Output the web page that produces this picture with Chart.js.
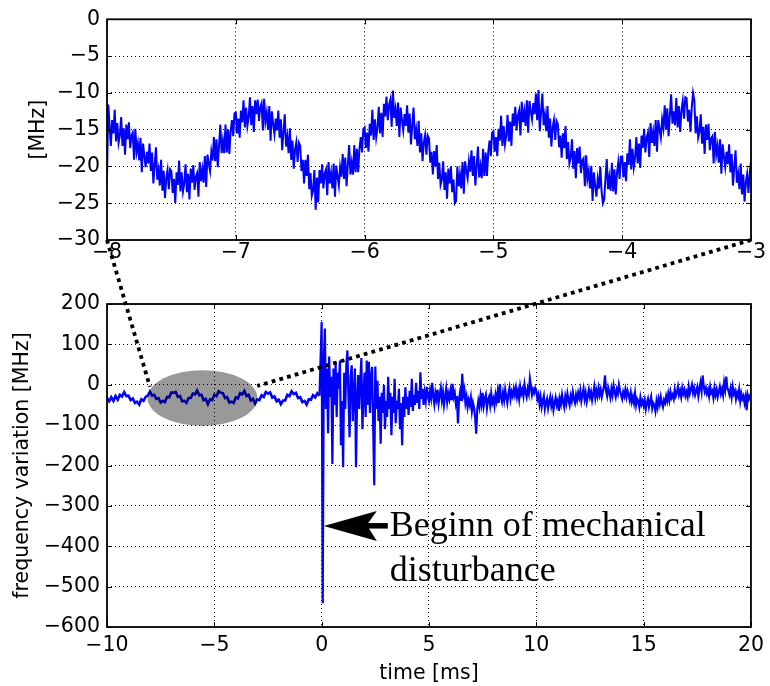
<!DOCTYPE html>
<html><head><meta charset="utf-8">
<script src="https://cdn.jsdelivr.net/npm/chart.js@4.4.1/dist/chart.umd.min.js"></script>
<style>
html,body{margin:0;padding:0;background:#fff;}
#wrap{position:relative;width:770px;height:686px;overflow:hidden;}
canvas{position:absolute;left:0;top:0;}
</style></head><body>
<div id="wrap"><canvas id="cTop" width="770" height="686"></canvas><canvas id="cBottom" width="770" height="686"></canvas></div>
<script>
// ---------- data ----------
// zoomed panel: samples every 0.01 ms from -8.00 to -3.00 ms
const topStart = -8, topStep = 0.01;
const topFreq = [
-21.5,-11.6,-14.4,-17.2,-13.7,-15.5,-12.3,-16.6,-14.1,-16.8,
-15.8,-13.3,-17.2,-14.8,-18.4,-14.3,-16.3,-14.0,-17.5,-15.8,
-15.4,-19.1,-14.9,-18.0,-16.9,-19.2,-16.1,-20.8,-16.9,-18.6,
-20.1,-18.0,-19.6,-16.9,-20.6,-18.1,-22.3,-19.8,-17.4,-21.8,
-20.5,-22.6,-19.1,-23.3,-20.6,-24.3,-21.6,-20.5,-23.1,-20.4,
-20.7,-23.6,-21.7,-25.0,-20.8,-22.5,-19.2,-23.4,-20.8,-23.4,
-22.3,-19.7,-23.5,-21.0,-24.5,-20.3,-22.2,-19.8,-23.2,-21.4,
-20.9,-24.1,-19.4,-22.0,-20.4,-22.2,-18.6,-22.8,-18.4,-19.6,
-20.6,-18.0,-19.2,-16.0,-19.3,-16.3,-20.1,-17.1,-14.3,-18.2,
-16.5,-18.2,-14.3,-18.1,-15.0,-18.3,-15.2,-13.7,-15.9,-12.8,
-12.7,-15.5,-13.5,-16.1,-12.4,-14.0,-11.0,-14.7,-12.0,-14.5,
-13.3,-10.6,-14.4,-11.8,-15.3,-11.0,-12.9,-10.9,-13.8,-11.9,
-11.4,-15.1,-10.8,-13.9,-12.7,-15.0,-11.8,-16.5,-12.5,-14.2,
-15.6,-13.5,-15.1,-12.4,-16.1,-13.6,-17.8,-15.3,-12.9,-17.3,
-16.0,-18.2,-14.8,-19.1,-16.5,-20.3,-17.7,-16.7,-19.4,-16.8,
-17.2,-20.6,-19.1,-22.3,-19.1,-21.3,-18.4,-23.1,-20.9,-24.0,
-23.3,-20.5,-25.9,-21.5,-24.9,-20.5,-22.3,-19.7,-23.0,-21.0,
-20.4,-23.9,-19.4,-22.3,-20.9,-23.0,-19.6,-24.1,-19.9,-21.4,
-22.6,-20.1,-21.4,-18.3,-21.7,-18.8,-22.7,-19.8,-17.1,-21.1,
-19.5,-21.1,-17.1,-20.8,-17.6,-20.8,-17.6,-16.0,-18.1,-14.9,
-14.7,-17.5,-15.4,-18.0,-14.2,-15.8,-12.3,-16.4,-13.6,-16.1,
-14.8,-11.9,-15.5,-12.7,-16.0,-11.5,-13.2,-10.5,-13.7,-11.6,
-10.9,-14.6,-9.7,-13.4,-12.2,-14.5,-11.3,-16.0,-12.0,-13.7,
-15.1,-12.9,-14.5,-11.7,-15.4,-12.8,-17.0,-14.4,-12.0,-16.3,
-15.0,-17.2,-13.8,-18.1,-15.5,-19.3,-16.7,-15.7,-18.4,-15.8,
-16.2,-19.5,-18.0,-21.1,-17.9,-20.0,-17.1,-21.7,-19.5,-22.5,
-21.8,-19.3,-23.2,-20.8,-24.4,-20.3,-22.3,-20.0,-23.5,-21.8,
-25.0,-24.7,-20.0,-22.7,-21.1,-23.0,-19.4,-23.7,-19.3,-20.6,
-21.6,-19.3,-20.7,-17.8,-21.3,-18.6,-22.6,-19.9,-17.3,-21.5,
-20.0,-21.6,-17.6,-21.3,-18.1,-21.3,-18.1,-16.5,-18.6,-15.4,
-15.2,-18.0,-16.0,-18.6,-14.9,-16.5,-13.1,-17.2,-14.5,-17.0,
-15.8,-13.0,-16.6,-13.9,-17.2,-12.8,-14.5,-11.9,-15.1,-13.1,
-12.4,-15.8,-11.2,-14.0,-12.5,-14.5,-11.0,-15.4,-11.1,-12.5,
-13.6,-11.4,-12.9,-10.1,-13.7,-9.6,-15.2,-12.6,-10.1,-14.4,
-13.0,-15.2,-11.8,-16.1,-13.5,-17.3,-14.7,-13.7,-16.4,-13.8,
-14.2,-17.4,-15.8,-18.8,-15.5,-17.5,-14.5,-19.0,-16.7,-19.6,
-18.8,-16.3,-20.3,-17.9,-21.6,-17.5,-19.6,-17.3,-20.9,-19.2,
-18.9,-22.7,-18.5,-21.7,-20.6,-23.0,-19.9,-24.7,-20.8,-22.6,
-24.1,-21.7,-23.0,-20.0,-23.4,-25.0,-24.5,-21.7,-19.0,-23.1,
-21.5,-23.3,-19.5,-23.4,-20.4,-23.8,-20.8,-19.4,-21.7,-18.7,
-18.7,-21.5,-19.4,-22.0,-18.2,-19.8,-16.3,-20.4,-17.6,-20.1,
-18.8,-16.0,-19.6,-16.9,-20.2,-15.8,-17.5,-14.9,-18.1,-16.1,
-15.4,-18.7,-14.1,-16.8,-15.3,-17.2,-13.7,-18.0,-13.7,-15.0,
-16.1,-13.6,-14.8,-11.7,-15.0,-12.1,-15.9,-13.0,-10.2,-14.2,
-12.5,-14.4,-10.7,-14.7,-11.8,-15.3,-12.4,-11.1,-13.5,-10.6,
-10.7,-13.9,-12.3,-15.3,-12.0,-10.0,-11.0,-15.5,-13.2,-16.1,
-15.3,-12.9,-16.9,-14.6,-18.3,-14.3,-16.4,-14.2,-17.8,-16.2,
-15.9,-19.6,-15.3,-18.4,-17.2,-19.5,-16.3,-21.0,-17.0,-18.7,
-20.1,-18.0,-19.7,-17.0,-20.8,-18.3,-22.6,-20.1,-17.8,-22.2,
-21.0,-23.1,-19.6,-23.8,-21.1,-24.8,-22.1,-21.0,-23.6,-20.9,
-19.3
];

// full trace, part 1: every 0.1 ms from -10.0 to -0.1 ms (before the disturbance)
const bottomStartA = -10, bottomStepA = 0.1;
const bottomFreqA = [
-33,-41,-31,-40,-28,-37,-25,-29,-18,-28,
-27,-38,-34,-45,-42,-49,-36,-40,-30,-27,
-17,-27,-25,-35,-33,-44,-40,-43,-30,-31,
-19,-20,-18,-30,-28,-41,-40,-45,-33,-33,
-22,-24,-14,-26,-25,-38,-35,-48,-36,-38,
-25,-28,-16,-20,-21,-33,-31,-44,-42,-45,
-31,-34,-21,-24,-15,-28,-25,-39,-35,-47,
-36,-38,-26,-30,-18,-22,-19,-32,-29,-41,
-37,-48,-39,-39,-25,-28,-16,-23,-20,-33,
-31,-43,-40,-49,-36,-37,-26,-31,-21,-27
];

// full trace, part 2: every 0.05 ms from 0.0 to 20.0 ms
const bottomStartB = 0, bottomStepB = 0.05;
const bottomFreqB = [
156,-541,60,139,-60,40,-120,70,-30,20,-196,40,-50,55,-80,30,-10,60,-150,-40,
-204,30,-60,50,85,-30,-130,20,48,-90,-20,40,-204,-40,24,-60,10,66,-110,-20,
30,-80,60,-50,57,-70,20,44,-100,-249,45,-60,10,-90,-30,-146,-20,-70,0,-110,
-40,-80,20,-60,-20,-125,-30,-70,15,-95,-40,-60,-10,-110,-45,-150,-30,-80,-6,-60,
-30,-75,-15,-55,15,-65,-25,-50,5,-45,-15,-60,31,-35,-10,-50,-20,-40,-5,-30,
-40,-15,-32,5,-28,-48,-20,-35,-12,-45,-25,-8,-38,-18,-50,-30,-10,-42,-22,-35,
-15,-38,2,-30,-20,-45,-28,-96,-35,-18,-40,27,-25,-12,-45,-30,-55,-38,-50,-32,
-65,-45,-58,-80,-121,-60,-40,-55,-28,-48,-20,-52,-35,-25,-58,-38,-30,-50,-22,-45,
-35,-52,-25,-40,-18,-45,2,-30,-42,-20,-38,-12,-30,-45,-22,-8,-35,-18,-28,-10,
-25,-8,-30,-15,-35,-5,-22,-12,-28,0,-18,-30,-10,-22,15,-5,-25,-12,-20,-8,
-15,-35,-25,-48,-30,-55,-40,-28,-60,-45,-35,-58,-42,-30,-52,-38,-62,-45,-32,-50,
-40,-65,-35,-48,-25,-42,-55,-30,-45,-22,-38,-50,-28,-40,-18,-35,-45,-25,-38,-20,
-32,-15,-40,-25,-10,-35,-20,-42,-28,-12,-30,-18,-38,-22,-5,-32,-15,-28,-8,-25,
-12,-30,-18,-5,23,-15,-28,-8,-20,-32,-10,-25,-2,-18,-30,-12,-22,0,-15,-25,
-35,-18,-28,-12,-30,-15,-25,-38,-20,-42,-30,-45,-22,-50,-35,-40,-55,-32,-48,-40,
-52,-38,-60,-45,-35,-55,-42,-30,-58,-45,-50,-65,-40,-55,-35,-48,-30,-45,-55,-38,
-45,-28,-40,-22,-38,-18,-32,-25,-35,-12,-28,-20,-5,-25,-15,-30,-8,-22,-12,-28,
-18,-30,-5,-22,-12,0,-20,-8,-25,-15,-5,-28,-10,5,-15,23,-5,-18,-8,-22,
-12,-28,-5,-20,-15,-32,-8,-25,-12,-30,-18,-5,-22,-10,-25,5,-12,20,-8,-15,
-25,-10,-30,-5,-22,-15,-35,-20,-30,-12,-40,-22,-35,-28,-45,-30,-63,-25,-35,-28,
-38
];

const topXRange = [-8, -3], topXStep = 1;
const topYRange = [-30, 0], topYStep = 5;
const bottomXRange = [-10, 20], bottomXStep = 5;
const bottomYRange = [-600, 200], bottomYStep = 100;
const topYTitle = '[MHz]';
const bottomYTitle = 'frequency variation [MHz]';
const bottomXTitle = 'time [ms]';
const annotationLines = ['Beginn of mechanical', 'disturbance'];
const annotationTip = {x: 0.1, y: -350};
const zoomEllipse = {cx: -5.55, cy: -33, rx: 2.56, ry: 69};
const connectorEnds = [{x: -8, y: -5}, {x: -3, y: -3}];

// ---------- helpers ----------
const FONT = 'DejaVu Sans';
const FS = 20.5;
const fmt = v => (v < 0 ? '\u2212' + Math.abs(v) : String(v));
const toPoints = (start, step, arr) => arr.map((v, i) => ({x: +(start + i * step).toFixed(4), y: v}));

function scales(xr, xs, yr, ys, o) {
  return {
    x: {
      type: 'linear', min: xr[0], max: xr[1],
      ticks: {stepSize: xs, color: '#000', font: {family: FONT, size: FS}, padding: o.xPad, maxRotation: 0, autoSkip: false, callback: fmt},
      grid: {color: '#000', lineWidth: 1, drawTicks: false},
      border: {display: false, dash: [1, 3]},
      title: o.xTitle ? {display: true, text: o.xTitle, color: '#000', font: {family: FONT, size: FS}, padding: {top: 0, bottom: o.xTitlePad}} : {display: false},
      afterFit: s => { s.height = o.xHeight; }
    },
    y: {
      type: 'linear', min: yr[0], max: yr[1],
      ticks: {stepSize: ys, color: '#000', font: {family: FONT, size: FS}, padding: 7, autoSkip: false, callback: fmt},
      grid: {color: '#000', lineWidth: 1, drawTicks: false},
      border: {display: false, dash: [1, 3]},
      title: {display: true, text: o.yTitle, color: '#000', font: {family: FONT, size: FS}, padding: {top: o.yTitlePad, bottom: 0}},
      afterFit: s => { s.width = 107; }
    }
  };
}

const frameTicks = {
  id: 'frameTicks',
  afterDatasetsDraw(chart) {
    const {ctx, chartArea: a, scales: {x, y}} = chart;
    ctx.save();
    ctx.strokeStyle = '#000';
    ctx.lineWidth = 1;
    ctx.beginPath();
    x.ticks.forEach(t => {
      const p = Math.round(x.getPixelForValue(t.value)) + 0.5;
      ctx.moveTo(p, a.bottom); ctx.lineTo(p, a.bottom - 5);
      ctx.moveTo(p, a.top); ctx.lineTo(p, a.top + 5);
    });
    y.ticks.forEach(t => {
      const p = Math.round(y.getPixelForValue(t.value)) + 0.5;
      ctx.moveTo(a.left, p); ctx.lineTo(a.left + 5, p);
      ctx.moveTo(a.right, p); ctx.lineTo(a.right - 5, p);
    });
    ctx.stroke();
    ctx.lineWidth = 1.8;
    ctx.strokeRect(a.left, a.top, a.right - a.left, a.bottom - a.top);
    ctx.restore();
  }
};

const common = {
  animation: false, responsive: false, events: [],
  plugins: {legend: {display: false}, tooltip: {enabled: false}}
};

const topChart = new Chart(document.getElementById('cTop'), {
  type: 'line',
  data: {datasets: [{data: toPoints(topStart, topStep, topFreq), borderColor: '#0000ff', borderWidth: 2, pointRadius: 0, tension: 0, fill: false}]},
  options: Object.assign({}, common, {
    layout: {padding: {top: 16, right: 19, left: 0, bottom: 0}},
    scales: scales(topXRange, topXStep, topYRange, topYStep, {xPad: 0, xHeight: 446, yTitle: topYTitle, yTitlePad: 26})
  }),
  plugins: [frameTicks]
});

const overlay = {
  id: 'overlay',
  afterDatasetsDraw(chart) {
    const {ctx, scales: {x, y}} = chart;
    ctx.save();
    const cx = x.getPixelForValue(zoomEllipse.cx), cy = y.getPixelForValue(zoomEllipse.cy);
    const rx = Math.abs(x.getPixelForValue(zoomEllipse.cx + zoomEllipse.rx) - cx);
    const ry = Math.abs(y.getPixelForValue(zoomEllipse.cy + zoomEllipse.ry) - cy);
    ctx.fillStyle = 'rgba(0,0,0,0.4)';
    ctx.beginPath(); ctx.ellipse(cx, cy, rx, ry, 0, 0, Math.PI * 2); ctx.fill();
    const tx = x.getPixelForValue(annotationTip.x), ty = y.getPixelForValue(annotationTip.y);
    ctx.fillStyle = '#000';
    ctx.beginPath();
    ctx.moveTo(tx, ty);
    ctx.lineTo(tx + 53, ty - 15);
    ctx.lineTo(tx + 43, ty - 1);
    ctx.lineTo(tx + 53, ty + 15);
    ctx.closePath(); ctx.fill();
    ctx.fillRect(tx + 40, ty - 3, 24, 5.5);
    ctx.font = '36px "Liberation Serif"';
    ctx.textBaseline = 'alphabetic';
    ctx.textAlign = 'left';
    ctx.fillText(annotationLines[0], tx + 66, ty + 10);
    ctx.fillText(annotationLines[1], tx + 66, ty + 55);
    ctx.restore();
  },
  afterDraw(chart) {
    const {ctx, scales: {x, y}} = chart;
    const tx = topChart.scales.x, tyS = topChart.scales.y;
    const starts = [
      {px: tx.getPixelForValue(topXRange[0]), py: tyS.getPixelForValue(topYRange[0])},
      {px: tx.getPixelForValue(topXRange[1]), py: tyS.getPixelForValue(topYRange[0])}
    ];
    ctx.save();
    ctx.strokeStyle = '#000';
    ctx.lineWidth = 3.8;
    ctx.setLineDash([3.8, 4.2]);
    connectorEnds.forEach((e, i) => {
      ctx.beginPath();
      ctx.moveTo(starts[i].px, starts[i].py);
      ctx.lineTo(x.getPixelForValue(e.x), y.getPixelForValue(e.y));
      ctx.stroke();
    });
    ctx.restore();
  }
};

const bottomPoints = toPoints(bottomStartA, bottomStepA, bottomFreqA).concat(toPoints(bottomStartB, bottomStepB, bottomFreqB));

const bottomChart = new Chart(document.getElementById('cBottom'), {
  type: 'line',
  data: {datasets: [{
    data: bottomPoints, borderColor: '#0000ff', borderWidth: 2.2, pointRadius: 0, tension: 0, fill: false,
    segment: {borderWidth: c => (c.p1.parsed.x < 0 ? 2.6 : 2.2)}
  }]},
  options: Object.assign({}, common, {
    layout: {padding: {top: 304, right: 19, left: 0, bottom: 0}},
    scales: scales(bottomXRange, bottomXStep, bottomYRange, bottomYStep, {xPad: 6, xHeight: 59, xTitle: bottomXTitle, xTitlePad: 0, yTitle: bottomYTitle, yTitlePad: 10})
  }),
  plugins: [frameTicks, overlay]
});
</script>
</body></html>
